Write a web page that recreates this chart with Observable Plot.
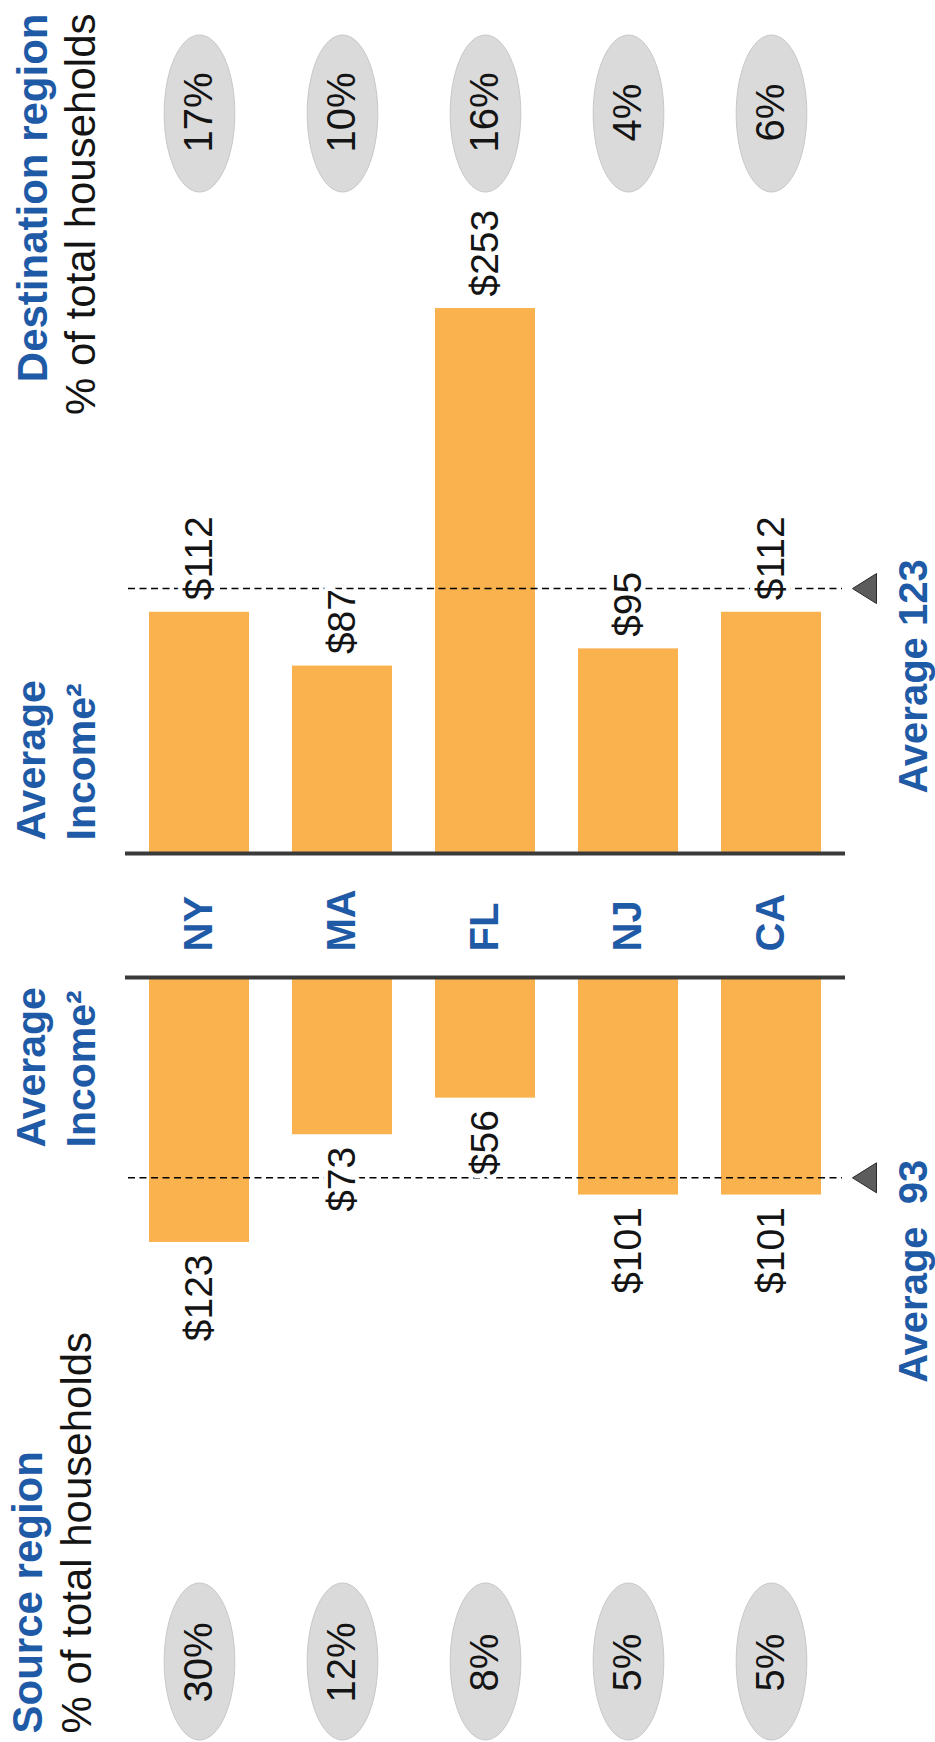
<!DOCTYPE html>
<html>
<head>
<meta charset="utf-8">
<script src="https://cdn.jsdelivr.net/npm/d3@7"></script>
<script src="https://cdn.jsdelivr.net/npm/@observablehq/plot@0.6"></script>
<style>
  html, body { margin: 0; padding: 0; background: #fff; }
</style>
</head>
<body>
<div id="chart"></div>
<script>
// Household migration: average income (in $k) of movers by state, source vs destination
const regions = ["NY", "MA", "FL", "NJ", "CA"];
const sourceIncome = [123, 73, 56, 101, 101];
const destIncome = [112, 87, 253, 95, 112];
const sourceShare = [30, 12, 8, 5, 5];
const destShare = [17, 10, 16, 4, 6];
const sourceAverage = 93;
const destAverage = 123;

const source = regions.map((region, i) => ({region, income: sourceIncome[i], share: sourceShare[i]}));
const dest = regions.map((region, i) => ({region, income: destIncome[i], share: destShare[i]}));

// Layout: the page is drawn turned a quarter turn, text reads bottom-to-top
const W = 935, H = 1742;
const PX = 2.154;                 // pixels per dollar
const DEST_BASE = 853;            // destination baseline row
const SRC_BASE = 977;             // source baseline row
const GAP = (SRC_BASE - DEST_BASE) / PX;   // distance between baselines, in dollars
const srcY = v => -GAP - v;       // source bars hang below their own baseline

const BLUE = "#1f5aa6";
const ORANGE = "#f9b24e";
const INK = "#141414";
const FONT = "'Liberation Sans', Arial, Helvetica, sans-serif";

// Upright ellipse symbol for the share badges
const ellipse = {
  draw(ctx, size) {
    const ry = Math.sqrt(size / Math.PI), rx = ry * 0.45, k = 0.5523;
    ctx.moveTo(rx, 0);
    ctx.bezierCurveTo(rx, k * ry, k * rx, ry, 0, ry);
    ctx.bezierCurveTo(-k * rx, ry, -rx, k * ry, -rx, 0);
    ctx.bezierCurveTo(-rx, -k * ry, -k * rx, -ry, 0, -ry);
    ctx.bezierCurveTo(k * rx, -ry, rx, -k * ry, rx, 0);
    ctx.closePath();
  }
};

// Left-pointing marker for the average lines
const triangleLeft = {
  draw(ctx, size) {
    const s = Math.sqrt(size / Math.PI);
    ctx.moveTo(-s, 0);
    ctx.lineTo(s, -1.25 * s);
    ctx.lineTo(s, 1.25 * s);
    ctx.closePath();
  }
};

const averages = [
  {y: destAverage, label: `Average ${destAverage}`},
  {y: srcY(sourceAverage), label: `Average\u00a0 ${sourceAverage}`}
];

const valueText = {
  rotate: -90, lineAnchor: "middle", fontSize: 39, fill: INK,
  stroke: "#fff", strokeWidth: 9, strokeLinejoin: "round", paintOrder: "stroke"
};

const chart = Plot.plot({
  width: W,
  height: H,
  margin: 0,
  style: {fontFamily: FONT, background: "#fff", overflow: "visible"},
  x: {type: "band", domain: regions, range: [149, 822], paddingInner: 0.3, paddingOuter: 0, axis: null},
  y: {domain: [0, 100], range: [DEST_BASE, DEST_BASE - 100 * PX], axis: null},
  marks: [
    // bars
    Plot.barY(dest, {x: "region", y1: () => 0, y2: "income", fill: ORANGE, inset: 0}),
    Plot.barY(source, {x: "region", y1: () => -GAP, y2: d => srcY(d.income), fill: ORANGE, inset: 0}),

    // baselines
    Plot.ruleY([0, -GAP], {stroke: "#3a3a3a", strokeWidth: 4, insetLeft: 125, insetRight: 90}),

    // average reference lines and markers
    Plot.ruleY(averages, {y: "y", stroke: "#000", strokeWidth: 1.6, strokeDasharray: "7,4.5", insetLeft: 128, insetRight: 93}),
    Plot.dot(averages, {y: "y", frameAnchor: "right", dx: -71, symbol: triangleLeft, r: 12,
      fill: "#5c5c5c", stroke: "#2a2a2a", strokeWidth: 1}),
    Plot.text(averages, {y: "y", text: "label", frameAnchor: "right", dx: -21, dy: 205, rotate: -90,
      textAnchor: "start", lineAnchor: "middle", fontSize: 40, fontWeight: "bold", fill: BLUE}),

    // value labels
    Plot.text(dest, {x: "region", y: "income", text: d => `$${d.income}`, textAnchor: "start", dy: -12, ...valueText}),
    Plot.text(source, {x: "region", y: d => srcY(d.income), text: d => `$${d.income}`, textAnchor: "end", dy: 12, ...valueText}),

    // state names between the two baselines
    Plot.text(regions, {x: d => d, y: () => -GAP, dy: -26, rotate: -90, textAnchor: "start", lineAnchor: "middle",
      fontSize: 40, fontWeight: "bold", fill: BLUE}),

    // share badges
    Plot.dot(dest, {x: "region", frameAnchor: "top", dy: 113, symbol: ellipse, r: 78.5, fill: "#dadada", stroke: "#c8c8c8", strokeWidth: 1}),
    Plot.text(dest, {x: "region", frameAnchor: "top", dy: 112, text: d => `${d.share}%`, rotate: -90,
      textAnchor: "middle", lineAnchor: "middle", fontSize: 40, fill: INK}),
    Plot.dot(source, {x: "region", frameAnchor: "bottom", dy: -81, symbol: ellipse, r: 78.5, fill: "#dadada", stroke: "#c8c8c8", strokeWidth: 1}),
    Plot.text(source, {x: "region", frameAnchor: "bottom", dy: -80, text: d => `${d.share}%`, rotate: -90,
      textAnchor: "middle", lineAnchor: "middle", fontSize: 40, fill: INK}),

    // section headings
    Plot.text(["Destination region"], {frameAnchor: "top-left", dx: 33, dy: 13, rotate: -90,
      textAnchor: "end", lineAnchor: "middle", fontSize: 42, fontWeight: "bold", fill: BLUE}),
    Plot.text(["% of total households"], {frameAnchor: "top-left", dx: 81, dy: 13, rotate: -90,
      textAnchor: "end", lineAnchor: "middle", fontSize: 42, fill: INK}),
    Plot.text(["Source region"], {frameAnchor: "bottom-left", dx: 28, dy: -9, rotate: -90,
      textAnchor: "start", lineAnchor: "middle", fontSize: 42, fontWeight: "bold", fill: BLUE}),
    Plot.text(["% of total households"], {frameAnchor: "bottom-left", dx: 77, dy: -9, rotate: -90,
      textAnchor: "start", lineAnchor: "middle", fontSize: 42, fill: INK}),
    Plot.text(["Average\nIncome²"], {frameAnchor: "top-left", dx: 53, dy: 840, rotate: -90, lineHeight: 1.22,
      textAnchor: "start", lineAnchor: "middle", fontSize: 41, fontWeight: "bold", fill: BLUE}),
    Plot.text(["Average\nIncome²"], {frameAnchor: "top-left", dx: 53, dy: 1147, rotate: -90, lineHeight: 1.22,
      textAnchor: "start", lineAnchor: "middle", fontSize: 41, fontWeight: "bold", fill: BLUE})
  ]
});

document.getElementById("chart").appendChild(chart);
</script>
</body>
</html>
